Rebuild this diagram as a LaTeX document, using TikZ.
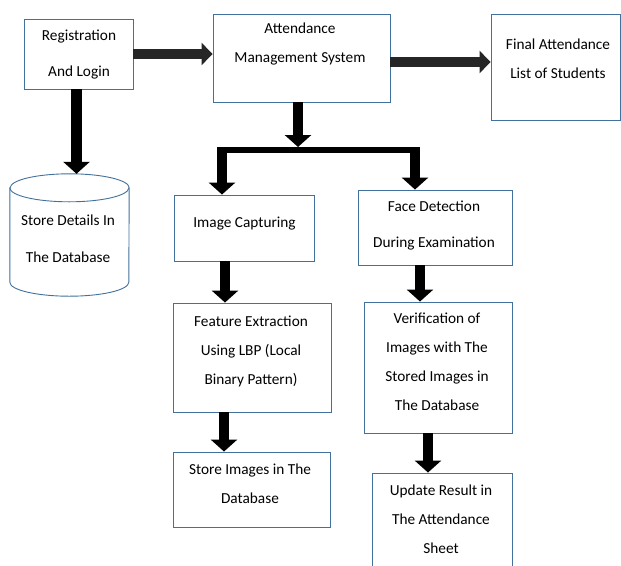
\documentclass[tikz,border=0pt]{standalone}
\usepackage{fontspec}
\setmainfont{Carlito}
\usepackage{xcolor}
\usepackage{tikz}
\usetikzlibrary{shapes,arrows.meta}
\definecolor{boxblue}{HTML}{41719C}
\definecolor{arrowgray}{HTML}{262626}
\tikzstyle{block} = [rectangle, draw=boxblue, fill=white, line width=0.9pt, inner sep=0pt]
\tikzstyle{dbline} = [draw=boxblue, fill=white, line width=0.9pt]
\tikzstyle{txt} = [align=center, font=\fontsize{15.3}{29}\selectfont, inner sep=0pt]
\tikzstyle{line} = [draw, line width=10.5pt, -{Triangle[width=26pt,length=12pt]}]
\tikzstyle{hline} = [draw=arrowgray, line width=10pt, -{Triangle[width=22pt,length=11pt]}]
\tikzstyle{bar} = [draw, line width=6pt, line cap=rect]

\begin{document}
\begin{tikzpicture}[x=1pt, y=-1pt]
        \useasboundingbox (0,0) rectangle (621,565);
        % Place nodes
        \node [block, minimum width=109pt, minimum height=70pt] (reg) at (78.5,54) {};
        \node [block, minimum width=177pt, minimum height=88pt] (ams) at (301.5,58) {};
        \node [block, minimum width=129pt, minimum height=106pt] (final) at (555.5,67) {};
        \node [inner sep=0pt, minimum width=119pt, minimum height=122pt] (db) at (69.5,235) {};
        \node [block, minimum width=140pt, minimum height=66pt] (cap) at (244,228) {};
        \node [block, minimum width=154pt, minimum height=75pt] (face) at (435,227.5) {};
        \node [block, minimum width=158pt, minimum height=109pt] (feat) at (252,357.5) {};
        \node [block, minimum width=148pt, minimum height=131pt] (verif) at (438,367.5) {};
        \node [block, minimum width=157pt, minimum height=75pt] (imgdb) at (251.5,489.5) {};
        \node [block, minimum width=140pt, minimum height=127pt] (upd) at (442,536.5) {};
        % Database drum
        \path [dbline] ([yshift=-14pt]db.north west) -- ([yshift=14pt]db.south west)
            arc [start angle=180, end angle=360, x radius=59.5pt, y radius=14pt]
            -- ([yshift=-14pt]db.north east)
            arc [start angle=0, end angle=180, x radius=59.5pt, y radius=14pt] -- cycle;
        \draw [boxblue, line width=0.9pt] ([yshift=-14pt]db.north west)
            arc [start angle=180, end angle=360, x radius=59.5pt, y radius=14pt];
        % Texts
        \node [txt] (reg-t) at (79,54.5) {Registration\\[7pt]And Login};
        \node [txt] (ams-t) at (300,44) {Attendance\\Management System};
        \node [txt] (final-t) at (558,58.5) {Final Attendance\\List of Students};
        \node [txt] (db-t) at (68,239) {Store Details In\\[8pt]The Database};
        \node [txt] (cap-t) at (244.5,223.5) {Image Capturing};
        \node [txt] (face-t) at (434,225.5) {Face Detection\\[7pt]During Examination};
        \node [txt] (feat-t) at (251,351.5) {Feature Extraction\\Using LBP (Local\\Binary Pattern)};
        \node [txt] (verif-t) at (437,361.5) {Verification of\\Images with The\\Stored Images in\\The Database};
        \node [txt] (imgdb-t) at (250,484) {Store Images in The\\Database};
        \node [txt] (upd-t) at (441,519.5) {Update Result in\\The Attendance\\Sheet};
        % Split points
        \coordinate (split) at (298,150);
        \coordinate (splitL) at (222,150);
        \coordinate (splitR) at (415,150);
        \coordinate (c1) at ([xshift=-19pt]cap.south);
        \coordinate (c2) at ([xshift=-28pt]feat.south);
        \coordinate (c3) at ([xshift=-15pt]face.south);
        \coordinate (c4) at ([xshift=-10pt]verif.south);
        \coordinate (c5) at ([xshift=-2pt]reg.south);
        \coordinate (c6) at ([yshift=-4pt]ams.east);
        % Draw edges
        \path [hline] (reg.east) -- (reg.east -| ams.west);
        \path [hline] (c6) -- (c6 -| final.west);
        \path [line] (c5) -- (c5 |- db.north);
        \path [bar] (splitL) -- (splitR);
        \path [line] (ams.south -| split) -- ([yshift=3pt]split);
        \path [line] ([yshift=3pt]splitL) -- (splitL |- cap.north);
        \path [line] ([yshift=3pt]splitR) -- (splitR |- face.north);
        \path [line] (c1) -- (c1 |- feat.north);
        \path [line] (c2) -- (c2 |- imgdb.north);
        \path [line] (c3) -- (c3 |- verif.north);
        \path [line] (c4) -- (c4 |- upd.north);
    \end{tikzpicture}
\end{document}
